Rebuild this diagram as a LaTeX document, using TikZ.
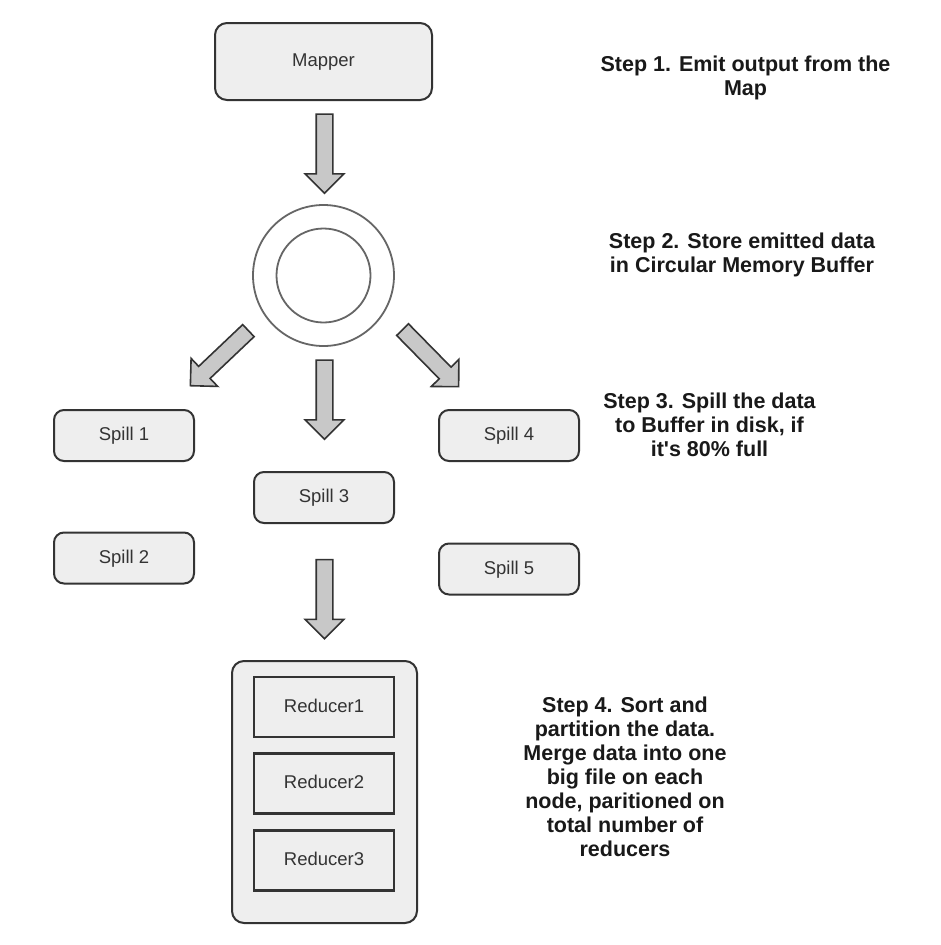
\documentclass[tikz,border=0pt]{standalone}
\usepackage{fontspec}
\setmainfont{Liberation Sans}
\usepackage{xcolor}
\usetikzlibrary{shapes.arrows, positioning}

\definecolor{boxfill}{HTML}{EEEEEE}
\definecolor{boxline}{HTML}{333333}
\definecolor{arrowfill}{HTML}{C8C8C8}
\definecolor{ringline}{HTML}{666666}

\tikzset{
  box/.style={draw=boxline, fill=boxfill, line width=2pt, rounded corners=10pt,
    text=boxline, font=\fontsize{18.5}{22}\selectfont, inner sep=0pt,
    text height=13pt, text depth=3pt},
  mapbox/.style={box, minimum width=217pt, minimum height=77pt, rounded corners=12pt},
  spillbox/.style={box, minimum width=140pt, minimum height=51pt},
  redbox/.style={box, rounded corners=0pt, line width=2.6pt, minimum width=140pt, minimum height=60pt},
  bigarrow/.style={single arrow, draw=boxline, fill=arrowfill, line width=1.6pt,
    minimum height=79pt, single arrow head extend=11pt,
    single arrow tip angle=90, inner sep=7.5pt},
  ring/.style={circle, draw=ringline, fill=white, line width=1.8pt, inner sep=0pt},
  steptext/.style={align=center, font=\bfseries\fontsize{21.5}{24}\selectfont, text=black!90}
}

\begin{document}
\begin{tikzpicture}[x=1pt, y=-1pt]
        % Page frame
        \useasboundingbox[fill=white] (0,0) rectangle (940,945);

        % Mapper and the buffer
        \node[mapbox] (mapper) at (323.5,61.5) {Mapper};
        \node[ring, minimum size=141pt] (buffer) at (323.5,275.5) {};
        \node[ring, minimum size=94pt] (bufferin) at (buffer.center) {};

        % Spill files on disk
        \node[spillbox] (spill1) at (124,435.5) {Spill 1};
        \node[spillbox] (spill2) at (124,558) {Spill 2};
        \node[spillbox] (spill3) at (324,497.5) {Spill 3};
        \node[spillbox] (spill4) at (509,435.5) {Spill 4};
        \node[spillbox] (spill5) at (509,569) {Spill 5};

        % Reducers
        \node[box, minimum width=185pt, minimum height=262pt, rounded corners=12pt] (reducers) at (324.5,792) {};
        \node[redbox] (red1) at (324,707) {Reducer1};
        \node[redbox, below=14pt of red1] (red2) {Reducer2};
        \node[redbox, below=14pt of red2] (red3) {Reducer3};

        % Block arrows
        \node[bigarrow, rotate=-90] (arrmap) at (324.5,149.5) {};
        \node[bigarrow, rotate=-136.5, minimum height=80pt] (arrleft) at (222.4,355.3) {};
        \node[bigarrow, rotate=-90] (arrmid) at (324.5,395.5) {};
        \node[bigarrow, rotate=-45.5, minimum height=80pt] (arrright) at (427.7,355.2) {};
        \node[bigarrow, rotate=-90] (arrred) at (324.5,595) {};

        % Step notes
        \node[steptext] (step1) at (745.5,78) {Step 1. Emit output from the\\Map};
        \node[steptext] (step2) at (742,255) {Step 2. Store emitted data\\in Circular Memory Buffer};
        \node[steptext] (step3) at (709.5,424.5) {Step 3. Spill the data\\to Buffer in disk, if\\it\textquotesingle s 80\% full};
        \node[steptext] (step4) at (625,776.5) {Step 4. Sort and\\partition the data.\\Merge data into one\\big file on each\\node, paritioned on\\total number of\\reducers};

    \end{tikzpicture}
\end{document}
